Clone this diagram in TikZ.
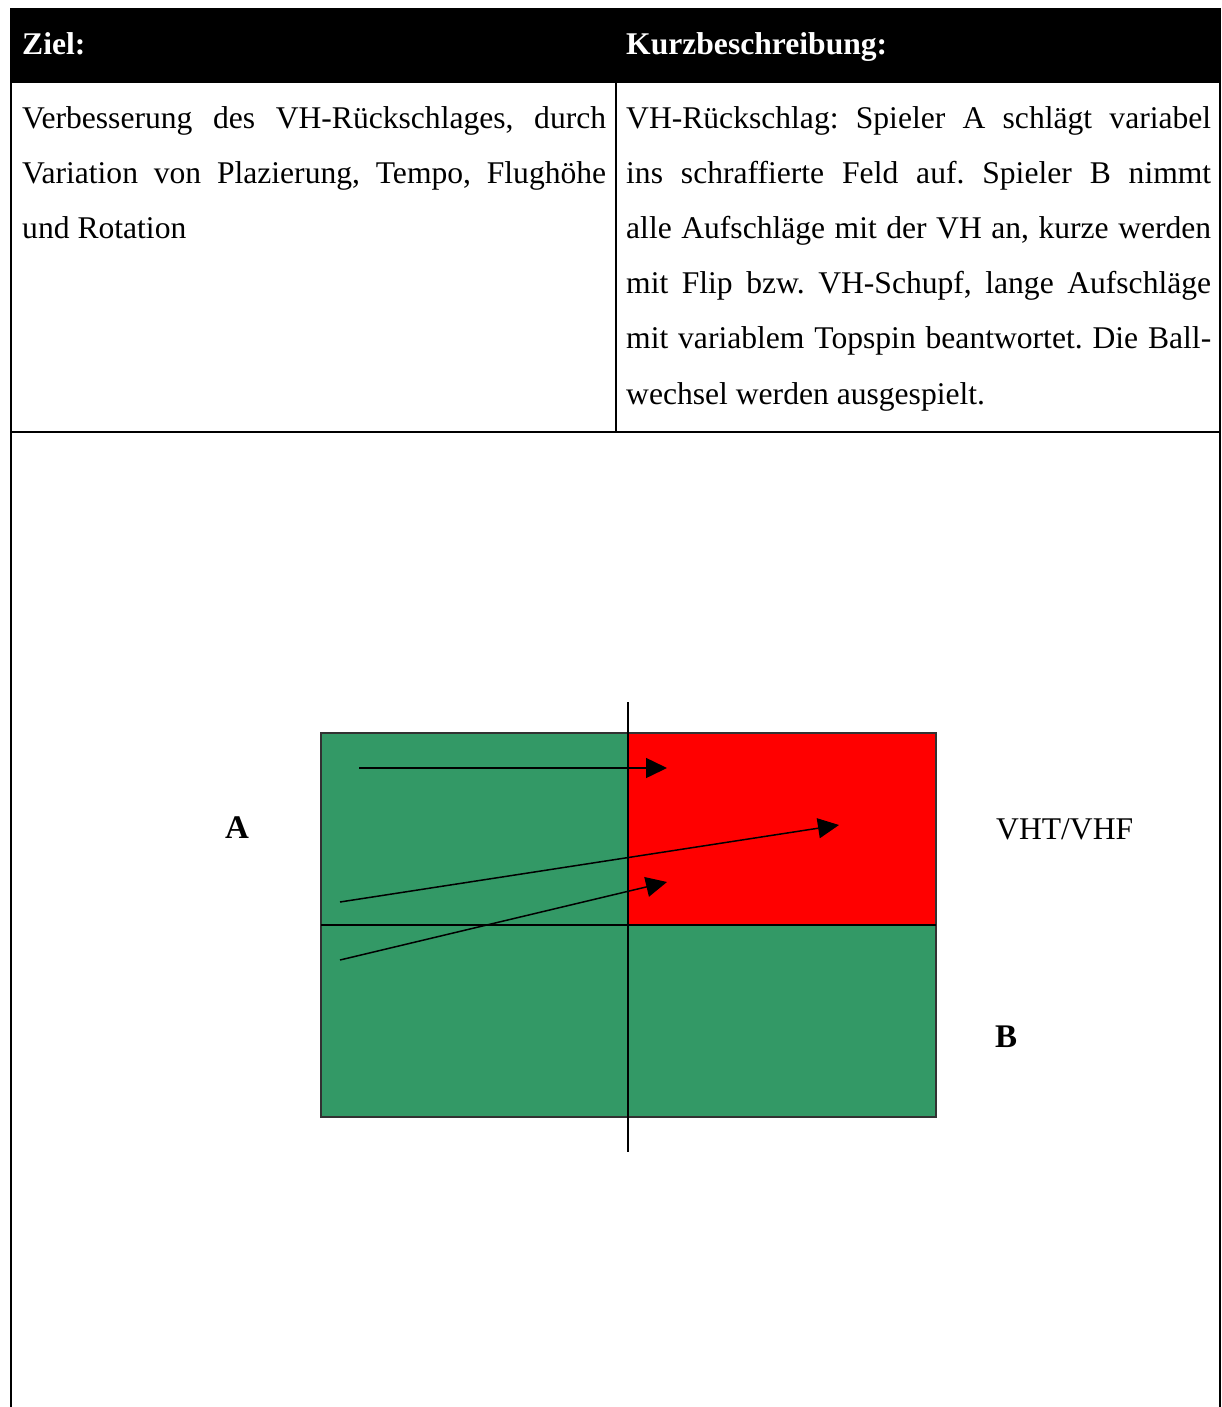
\documentclass[tikz,border=0pt]{standalone}
\usepackage{fontspec}
\setmainfont{Liberation Serif}
\usetikzlibrary{arrows.meta, positioning, calc}
\definecolor{tgreen}{RGB}{51,153,102}
\definecolor{tred}  {RGB}{255,0,0}
\definecolor{dgray} {RGB}{50,50,50}
\frenchspacing

\begin{document}
\begin{tikzpicture}[x=1pt, y=-1pt,
    hdtext/.style={anchor=base west, inner sep=0pt, text=white,
                   font=\fontsize{31.6}{38}\selectfont\bfseries},
    celltext/.style={anchor=north west, inner sep=0pt, align=justify,
                     font=\fontsize{31.6}{55.2}\selectfont},
    lbl/.style={anchor=base west, inner sep=0pt,
                font=\fontsize{31.6}{38}\selectfont},
    shot/.style={line width=1.5pt, -{Triangle[length=21pt, width=20pt]}},
    grid/.style={line width=1.6pt}]
  \useasboundingbox[fill=white] (0,0) rectangle (1221,1407);

  % table frame
  \fill (10,8) rectangle (1221,83);
  \draw[grid] (11,83) -- (11,1407);
  \draw[grid] (1220,83) -- (1220,1407);
  \draw[grid] (616,83) -- (616,432);
  \draw[grid] (10,432) -- (1221,432);

  % header and cells
  \node[hdtext] (ziel) at (22,55) {Ziel:};
  \node[hdtext] (kurz) at (626,55) {Kurzbeschreibung:};
  \node[celltext, text width=584pt] (zieltxt) at (22,104) {\rule{0pt}{24pt}%
    Verbesserung des VH-Rückschlages, durch\linebreak
    Variation von Plazierung, Tempo, Flughöhe\linebreak
    und Rotation};
  \node[celltext, text width=585pt] (kurztxt) at (626,104) {\rule{0pt}{24pt}%
    VH-Rückschlag: Spieler A schlägt variabel\linebreak
    ins schraffierte Feld auf. Spieler B nimmt\linebreak
    alle Aufschläge mit der VH an, kurze werden\linebreak
    mit Flip bzw. VH-Schupf, lange Aufschläge\linebreak
    mit variablem Topspin beantwortet. Die Ball-\linebreak
    wechsel werden ausgespielt.};

  % playing table
  \fill[tgreen] (321,733) rectangle (936,1117);
  \fill[tred] (628,733) rectangle (936,925);
  \draw[dgray, line width=1.3pt] (321,733) rectangle (936,1117);
  \draw[line width=2pt] (321,925) -- (936,925);
  \draw[line width=2.6pt] (628,702) -- (628,1152);

  % serves
  \coordinate (s1) at (359,768);
  \coordinate (e1) at (667,768);
  \coordinate (s2) at (340,902);
  \coordinate (e2) at (839,825);
  \coordinate (s3) at (340,960);
  \coordinate (e3) at (667,882);
  \draw[shot] (s1) -- (e1);
  \draw[shot] (s2) -- (e2);
  \draw[shot] (s3) -- (e3);

  % players
  \node[lbl, font=\fontsize{33}{38}\selectfont\bfseries] (plA) at (225,838) {A};
  \node[lbl] (vht) at (996,839) {VHT/VHF};
  \node[lbl, font=\fontsize{33}{38}\selectfont\bfseries] (plB) at (995,1047) {B};
\end{tikzpicture}
\end{document}
